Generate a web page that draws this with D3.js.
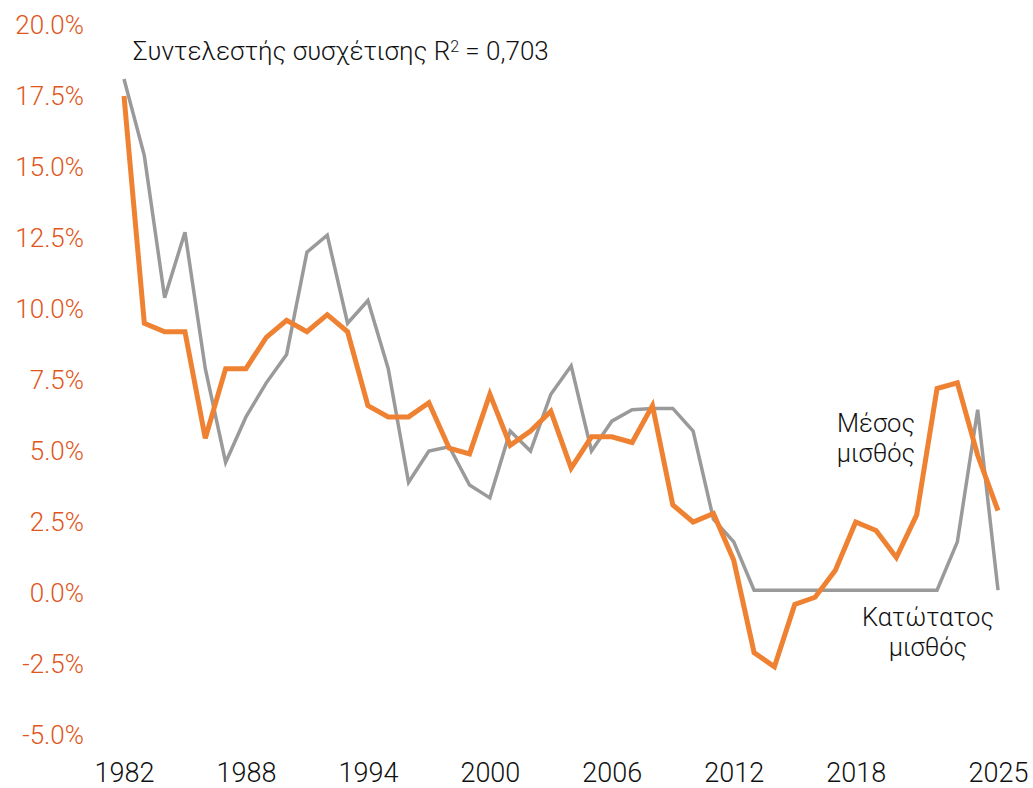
<!DOCTYPE html>
<html>
<head>
<meta charset="UTF-8">
<style>
  body { margin: 0; background: #fff; }
  svg text { font-family: Roboto, "Liberation Sans", sans-serif; font-weight: 300; }
</style>
</head>
<body>
<svg></svg>
<script src="https://d3js.org/d3.v7.min.js"></script>
<script>

let width = 1033,
    height = 788;

// years on the x axis
let years = d3.range(1982, 2026);

// average wage growth (%), "Μέσος μισθός"
let avgWage = [17.5, 9.5, 9.2, 9.2, 5.45, 7.9, 7.9, 9.0, 9.6, 9.2,
               9.8, 9.2, 6.6, 6.2, 6.2, 6.7, 5.1, 4.9, 7.0, 5.2,
               5.7, 6.4, 4.4, 5.5, 5.5, 5.3, 6.6, 3.1, 2.5, 2.8,
               1.15, -2.1, -2.6, -0.4, -0.15, 0.8, 2.5, 2.2, 1.25, 2.75,
               7.2, 7.4, 4.85, 2.9];

// minimum wage growth (%), "Κατώτατος μισθός"
let minWage = [18.1, 15.4, 10.4, 12.7, 7.9, 4.6, 6.2, 7.4, 8.4, 12.0,
               12.6, 9.5, 10.3, 7.9, 3.9, 5.0, 5.15, 3.8, 3.35, 5.7,
               5.0, 7.0, 8.0, 5.0, 6.05, 6.45, 6.5, 6.5, 5.7, 2.6,
               1.8, 0.1, 0.1, 0.1, 0.1, 0.1, 0.1, 0.1, 0.1, 0.1,
               0.1, 1.8, 6.45, 0.1];

let xTicks = [1982, 1988, 1994, 2000, 2006, 2012, 2018, 2025];
let yTicks = [-5, -2.5, 0, 2.5, 5, 7.5, 10, 12.5, 15, 17.5, 20];

let svg = d3.select("svg")
    .attr("width", width)
    .attr("height", height);

let x = d3.scaleLinear().domain([1982, 2025]).range([124, 998]);
let y = d3.scaleLinear().domain([-5, 20]).range([735, 25]);

// y axis labels (no line, no ticks)
let yAxis = d3.axisLeft(y)
    .tickValues(yTicks)
    .tickFormat(d => d.toFixed(1) + "%")
    .tickSize(0)
    .tickPadding(0);

let gy = svg.append("g")
    .attr("transform", "translate(84,0)")
    .call(yAxis);
gy.select(".domain").remove();
gy.selectAll("text")
    .attr("fill", "#e0561b")
    .style("font-size", "26px");

// x axis labels
let xAxis = d3.axisBottom(x)
    .tickValues(xTicks)
    .tickFormat(d3.format("d"))
    .tickSize(0)
    .tickPadding(0);

let gx = svg.append("g")
    .attr("transform", "translate(0,763)")
    .call(xAxis);
gx.select(".domain").remove();
gx.selectAll("text")
    .attr("fill", "#111")
    .style("font-size", "27px");

let line = d3.line()
    .x((d, i) => x(years[i]))
    .y(d => y(d));

svg.append("path")
    .datum(minWage)
    .attr("fill", "none")
    .attr("stroke", "#9a9a9a")
    .attr("stroke-width", 3.5)
    .attr("d", line);

svg.append("path")
    .datum(avgWage)
    .attr("fill", "none")
    .attr("stroke", "#ef8232")
    .attr("stroke-width", 5)
    .attr("d", line);

// annotation
let note = svg.append("text")
    .attr("x", 133)
    .attr("y", 60)
    .attr("fill", "#111")
    .style("font-size", "26px");
note.append("tspan").text("Συντελεστής συσχέτισης R");
note.append("tspan").attr("dy", -8).style("font-size", "16px").text("2");
note.append("tspan").attr("dy", 8).text(" = 0,703");

// series labels
let labels = [
  {lines: ["Μέσος", "μισθός"], cx: 876, top: 432},
  {lines: ["Κατώτατος", "μισθός"], cx: 928, top: 626}
];

labels.forEach(l => {
  let t = svg.append("text")
      .attr("text-anchor", "middle")
      .attr("fill", "#111")
      .style("font-size", "25.5px");
  l.lines.forEach((s, i) => {
    t.append("tspan")
      .attr("x", l.cx)
      .attr("y", l.top + i * 30)
      .text(s);
  });
});

</script>
</body>
</html>
